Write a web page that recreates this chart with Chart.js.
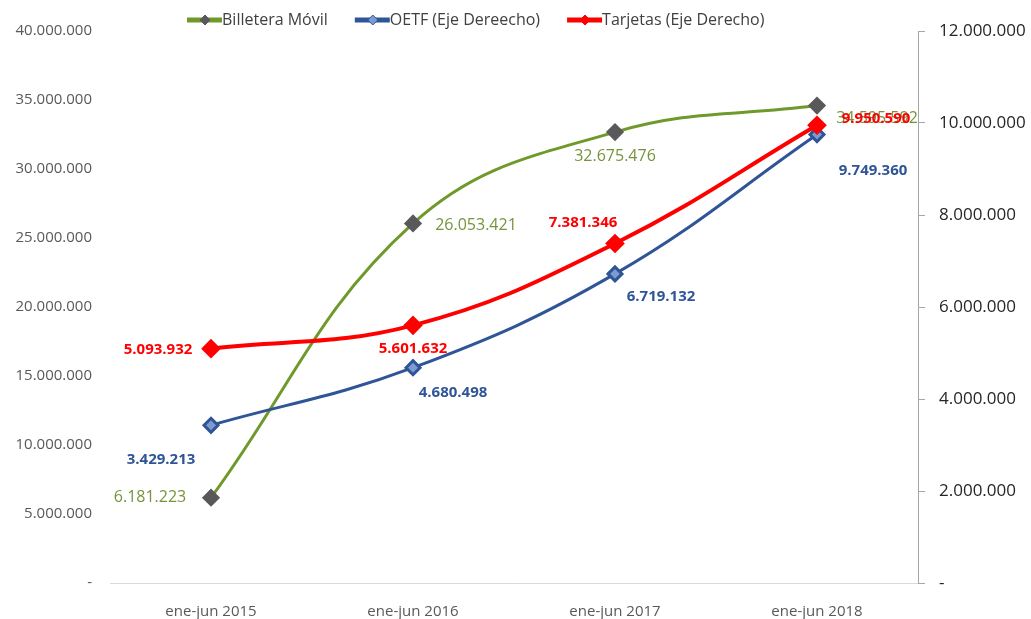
<!DOCTYPE html>
<html>
<head>
<meta charset="utf-8">
<script src="https://cdn.jsdelivr.net/npm/chart.js@4.4.1/dist/chart.umd.min.js"></script>
<style>
  html, body { margin: 0; padding: 0; background: #ffffff; }
  #grafico { width: 1031px; height: 619px; }
</style>
</head>
<body>
<div id="grafico"><canvas id="plot1" width="1031" height="619"></canvas></div>
<script>
// datos
var categorias = ['ene-jun 2015', 'ene-jun 2016', 'ene-jun 2017', 'ene-jun 2018'];
var billetera_movil = [6181223, 26053421, 32675476, 34595592];
var oetf = [3429213, 4680498, 6719132, 9749360];
var tarjetas = [5093932, 5601632, 7381346, 9950590];

var nombres = ['Billetera Móvil', 'OETF (Eje Dereecho)', 'Tarjetas (Eje Derecho)'];

var fuente = "'Open Sans', 'Noto Sans', sans-serif";

function formato_miles(v) {
    if (v === 0) return '-';
    return String(Math.round(v)).replace(/\B(?=(\d{3})+(?!\d))/g, '.');
}

// desplazamiento de las etiquetas respecto al punto [dx, dy]
var pos_billetera = [[-61, 0], [63, 2], [0, 24], [60, 13]];
var pos_oetf = [[-50, 34], [40, 25], [46, 23], [56, 36]];
var pos_tarjetas = [[-53, 1], [0, 23], [-32, -21], [59, -7]];

var etiquetas_plugin = {
    id: 'etiquetas',
    afterDatasetsDraw: function (chart) {
        var ctx = chart.ctx;
        ctx.save();
        ctx.textAlign = 'center';
        ctx.textBaseline = 'middle';
        chart.data.datasets.forEach(function (ds, i) {
            var meta = chart.getDatasetMeta(i);
            ctx.font = ds.etiquetaBold ? 'bold 15px ' + fuente : '16px ' + fuente;
            ctx.fillStyle = ds.etiquetaColor;
            meta.data.forEach(function (p, j) {
                var d = ds.etiquetaPos[j];
                ctx.fillText(formato_miles(ds.data[j]), p.x + d[0], p.y + d[1]);
            });
        });
        ctx.restore();
    },
    afterDraw: function (chart) {
        // leyenda: linea con rombo + texto
        var ctx = chart.ctx;
        ctx.save();
        ctx.font = '16px ' + fuente;
        ctx.textBaseline = 'middle';
        var x = 187, y = 20;
        chart.data.datasets.forEach(function (ds) {
            ctx.strokeStyle = ds.borderColor;
            ctx.lineWidth = 5;
            ctx.beginPath();
            ctx.moveTo(x, y);
            ctx.lineTo(x + 35, y);
            ctx.stroke();
            ctx.fillStyle = ds.pointBackgroundColor;
            ctx.strokeStyle = ds.pointBorderColor;
            ctx.lineWidth = 1;
            ctx.beginPath();
            ctx.moveTo(x + 18, y - 5);
            ctx.lineTo(x + 23, y);
            ctx.lineTo(x + 18, y + 5);
            ctx.lineTo(x + 13, y);
            ctx.closePath();
            ctx.fill();
            ctx.stroke();
            ctx.fillStyle = '#404040';
            ctx.fillText(ds.label, x + 35, y);
            x += 35 + ctx.measureText(ds.label).width + 27;
        });
        ctx.restore();
    }
};

var dados = {
    type: 'line',
    data: {
        labels: categorias,
        datasets: [
            {
                label: nombres[0],
                data: billetera_movil,
                yAxisID: 'yIzq',
                borderColor: '#6f9a2b',
                borderWidth: 3,
                pointStyle: 'rectRot',
                pointRadius: 7,
                pointBackgroundColor: '#595959',
                pointBorderColor: '#595959',
                tension: 0.4,
                order: 3,
                etiquetaColor: '#77933c',
                etiquetaBold: false,
                etiquetaPos: pos_billetera
            },
            {
                label: nombres[1],
                data: oetf,
                yAxisID: 'yDer',
                borderColor: '#2f5597',
                borderWidth: 3,
                pointStyle: 'rectRot',
                pointRadius: 7,
                pointBackgroundColor: '#7b9bd2',
                pointBorderColor: '#2f5597',
                tension: 0.4,
                order: 2,
                etiquetaColor: '#2f5597',
                etiquetaBold: true,
                etiquetaPos: pos_oetf
            },
            {
                label: nombres[2],
                data: tarjetas,
                yAxisID: 'yDer',
                borderColor: '#ff0000',
                borderWidth: 4,
                pointStyle: 'rectRot',
                pointRadius: 7,
                pointBackgroundColor: '#ff0000',
                pointBorderColor: '#ff0000',
                tension: 0.4,
                order: 1,
                etiquetaColor: '#ff0000',
                etiquetaBold: true,
                etiquetaPos: pos_tarjetas
            }
        ]
    },
    options: {
        responsive: false,
        animation: false,
        layout: { padding: { top: 31, bottom: 0, left: 0, right: 0 } },
        plugins: {
            legend: { display: false },
            tooltip: { enabled: false }
        },
        scales: {
            x: {
                offset: true,
                grid: { display: false },
                border: { display: true, color: '#d9d9d9', width: 1 },
                ticks: { color: '#595959', font: { family: fuente, size: 15 }, padding: 12 },
                afterFit: function (s) { s.height = 36; }
            },
            yIzq: {
                position: 'left',
                min: 0,
                max: 40000000,
                ticks: {
                    stepSize: 5000000,
                    color: '#595959',
                    font: { family: fuente, size: 15 },
                    padding: 10,
                    callback: function (v) { return formato_miles(v); }
                },
                grid: { display: false },
                border: { display: false },
                afterFit: function (s) { s.width = 110; }
            },
            yDer: {
                position: 'right',
                min: 0,
                max: 12000000,
                ticks: {
                    stepSize: 2000000,
                    color: '#262626',
                    font: { family: fuente, size: 17 },
                    padding: 14,
                    callback: function (v) { return formato_miles(v); }
                },
                grid: { drawOnChartArea: false, drawTicks: true, tickLength: 7, color: '#a6a6a6' },
                border: { display: true, color: '#a6a6a6', width: 1 },
                afterFit: function (s) { s.width = 113; }
            }
        }
    },
    plugins: [etiquetas_plugin]
};

var grafico = new Chart(document.getElementById('plot1'), dados);
</script>
</body>
</html>
